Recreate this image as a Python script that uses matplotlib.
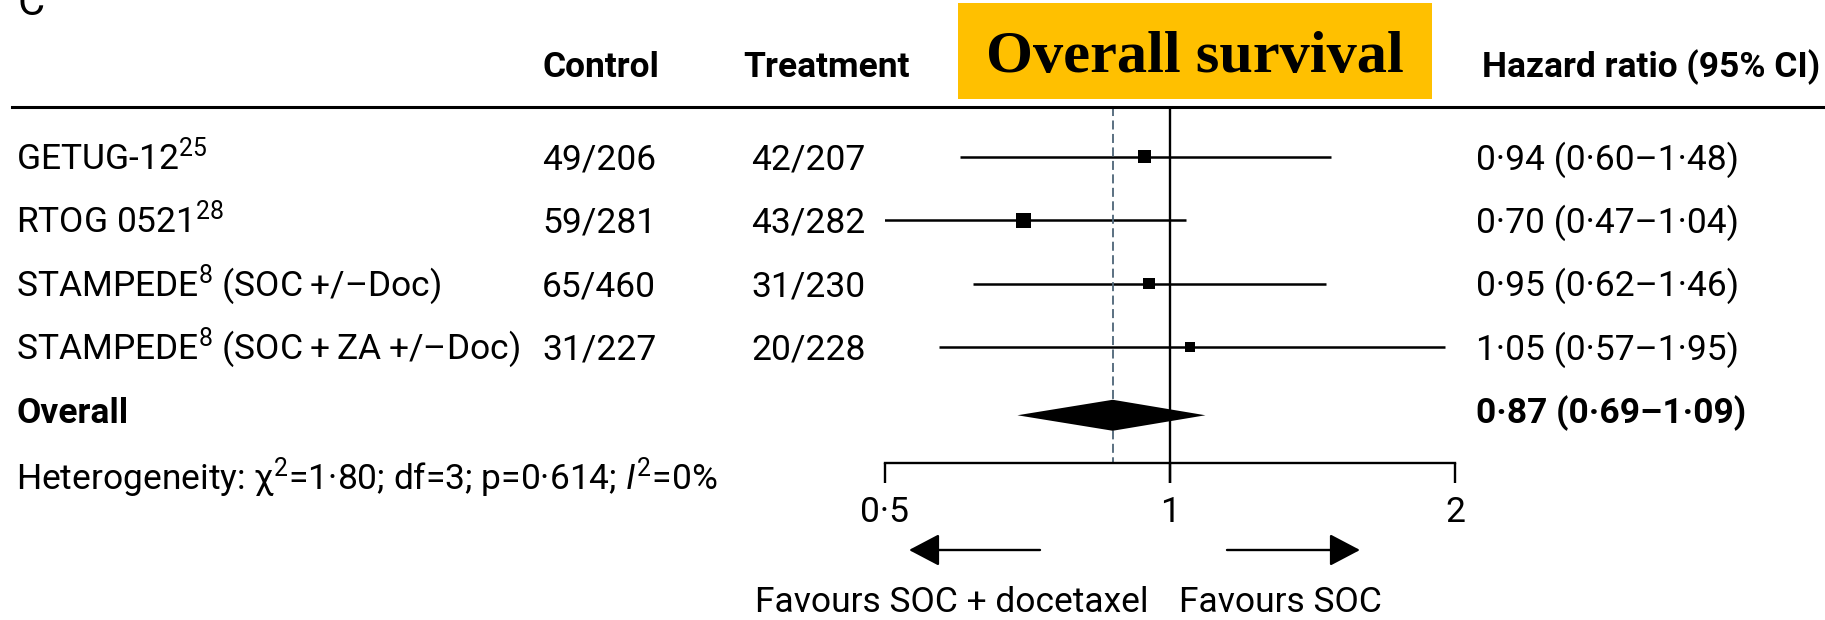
import matplotlib
matplotlib.use("Agg")
import matplotlib.pyplot as plt
from matplotlib.patches import Rectangle
from matplotlib.lines import Line2D
from matplotlib.transforms import blended_transform_factory

plt.rcParams['font.family'] = ['Roboto', 'DejaVu Sans']
plt.rcParams['mathtext.fontset'] = 'custom'
plt.rcParams['mathtext.rm'] = 'Roboto'
plt.rcParams['mathtext.it'] = 'Roboto:italic'
plt.rcParams['mathtext.bf'] = 'Roboto:bold'
plt.rcParams['lines.scale_dashes'] = False

# trials, events/patients per arm and hazard ratios
studies = ["GETUG-12$^{25}$", "RTOG 0521$^{28}$",
           "STAMPEDE$^{8}$ (SOC\u2009+/–Doc)",
           "STAMPEDE$^{8}$ (SOC\u2009+\u2009ZA\u2009+/–Doc)"]
control = ["49/206", "59/281", "65/460", "31/227"]
treatment = ["42/207", "43/282", "31/230", "20/228"]
hr = [0.94, 0.70, 0.95, 1.05]
ci_low = [0.60, 0.47, 0.62, 0.57]
ci_high = [1.48, 1.04, 1.46, 1.95]

overall_hr = 0.87
overall_low = 0.69
overall_high = 1.09
heterogeneity = "Heterogeneity: χ$^2$=1·80; df=3; p=0·614; $I^2$=0%"

ticks = [0.5, 1, 2]
tick_labels = ["0·5", "1", "2"]

# square side for each trial, in pixels
box_px = [13, 15, 11.5, 9.5]

W, H, DPI = 1825, 620, 100
FS = 25.5
row_px = 63.3
first_row = 157


def py(p):
    # pixel row from the top -> forest y units
    return (p - first_row) / row_px


def fmt_hr(h, lo, hi):
    return f"{h:.2f} ({lo:.2f}–{hi:.2f})".replace(".", "·")


fig = plt.figure(figsize=(W / DPI, H / DPI), dpi=DPI)

ax = fig.add_axes([885 / W, 0, 570 / W, 1])
ax.patch.set_alpha(0)
ax.set_xscale('log')
ax.set_xlim(0.5, 2)
ax.set_ylim(py(H), py(0))
for side in ['top', 'left', 'right']:
    ax.spines[side].set_visible(False)
ax.spines['bottom'].set_position(('data', py(463)))
ax.spines['bottom'].set_linewidth(1.7)
ax.set_xticks(ticks)
ax.set_xticklabels(tick_labels)
ax.minorticks_off()
ax.set_yticks([])
ax.tick_params(axis='x', direction='out', length=14.5, width=1.7,
               pad=9.5, labelsize=FS)

rows = list(range(len(studies)))
ax.hlines(rows, ci_low, ci_high, color='black', lw=1.8)
ax.scatter(hr, rows, marker='s', color='black',
           s=[(b * 0.72) ** 2 for b in box_px], zorder=3, linewidths=0)

yd = len(studies) + 0.08
h = 15.5 / row_px
ax.fill([overall_low, overall_hr, overall_high, overall_hr],
        [yd, yd - h, yd, yd + h], color='black', lw=0, zorder=3)

ax.vlines(1, py(107), py(483), color='black', lw=1.7)
ax.vlines(overall_hr, py(107), py(463), color='#4d6577', lw=1.3,
          linestyles=[(0, (6.5, 3.2))])

# header rule and title box
fig.add_artist(Line2D([12 / W, 1], [1 - 107 / H] * 2, color='black', lw=2.2))
fig.add_artist(Rectangle((958 / W, 1 - 99 / H), (1432 - 958) / W, 95.5 / H,
                         transform=fig.transFigure, facecolor='#ffc000',
                         edgecolor='none'))
fig.text(1195 / W, 1 - 72 / H, "Overall survival", family='Liberation Serif',
         weight='bold', size=43.5, ha='center', va='baseline')
fig.text(18 / W, 1 - 15 / H, "C", size=30, va='baseline')

tr = blended_transform_factory(fig.transFigure, ax.transData)
base = 12.5 / row_px
hdr = py(77)
fig.text(542 / W, hdr, "Control", transform=tr, size=FS, weight='bold')
fig.text(743 / W, hdr, "Treatment", transform=tr, size=FS, weight='bold')
fig.text(1482 / W, hdr, "Hazard ratio (95% CI)", transform=tr, size=FS,
         weight='bold')

for i in rows:
    y = i + base
    fig.text(16 / W, y, studies[i], transform=tr, size=FS)
    fig.text(542 / W, y, control[i], transform=tr, size=FS)
    fig.text(751 / W, y, treatment[i], transform=tr, size=FS)
    fig.text(1476 / W, y, fmt_hr(hr[i], ci_low[i], ci_high[i]),
             transform=tr, size=FS)

y = len(studies) + base
fig.text(16 / W, y, "Overall", transform=tr, size=FS, weight='bold')
fig.text(1476 / W, y, fmt_hr(overall_hr, overall_low, overall_high),
         transform=tr, size=FS, weight='bold')
fig.text(16 / W, py(490), heterogeneity, transform=tr, size=FS)

# direction arrows under the axis
arrow = dict(arrowstyle='-|>,head_length=0.95,head_width=0.5',
             mutation_scale=20, color='black', lw=1.7, shrinkA=0, shrinkB=0)
ax.annotate("", xy=(909, H - 550), xytext=(1040, H - 550),
            xycoords='figure pixels', arrowprops=arrow)
ax.annotate("", xy=(1360, H - 550), xytext=(1227, H - 550),
            xycoords='figure pixels', arrowprops=arrow)
fig.text(952 / W, 1 - 612 / H, "Favours SOC + docetaxel", size=FS,
         ha='center', va='baseline')
fig.text(1280 / W, 1 - 612 / H, "Favours SOC", size=FS,
         ha='center', va='baseline')

fig.savefig('out.png', dpi=DPI)
